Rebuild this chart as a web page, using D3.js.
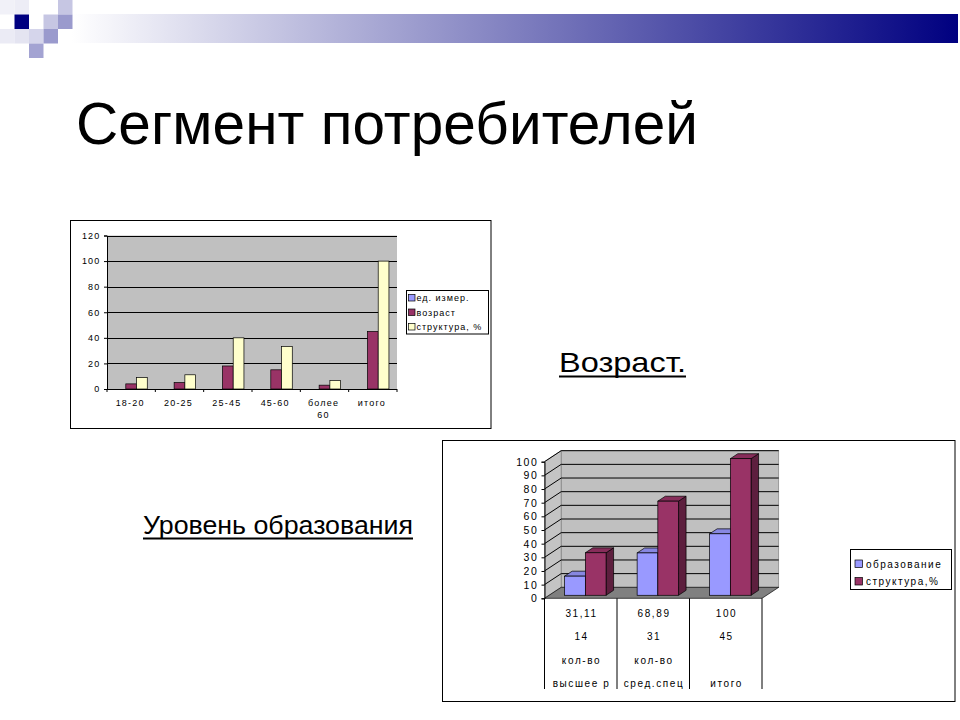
<!DOCTYPE html>
<html>
<head>
<meta charset="utf-8">
<script src="https://cdn.jsdelivr.net/npm/d3@7"></script>
<style>
  body { margin: 0; background: #fff; }
  text { font-family: "Liberation Sans", Arial, sans-serif; }
</style>
</head>
<body>
<svg id="slide" width="960" height="720"></svg>
<script>
// ---- age chart data ----
const ageCategories = ['18-20', '20-25', '25-45', '45-60', 'более 60', 'итого']
const ageSeries = ['ед. измер.', 'возраст', 'структура, %']
const ageUnits = [0, 0, 0, 0, 0, 0]
const ageCounts = [4, 5, 18, 15, 3, 45]
const ageShares = [8.89, 11.11, 40, 33.33, 6.67, 100]
const ageTicks = [0, 20, 40, 60, 80, 100, 120]

// ---- education chart data ----
const eduCategories = ['высшее р', 'сред.спец', 'итого']
const eduKinds = ['кол-во', 'кол-во', '']
const eduSeries = ['образование', 'структура,%']
const eduCounts = [14, 31, 45]
const eduShares = [31.11, 68.89, 100]
const eduTicks = [0, 10, 20, 30, 40, 50, 60, 70, 80, 90, 100]

const seriesColors = ['#9999ff', '#993366', '#ffffcc']

const svg = d3.select('#slide')

/* ------------------------- slide decoration ------------------------- */
const grad = svg.append('defs').append('linearGradient').attr('id', 'band')
grad.append('stop').attr('offset', '0%').attr('stop-color', '#ffffff')
grad.append('stop').attr('offset', '100%').attr('stop-color', '#000080')
svg.append('rect')
  .attr('x', 72).attr('y', 14).attr('width', 886).attr('height', 29)
  .attr('fill', 'url(#band)')

const squares = [
  [0, 0, '#f1f1f8'], [14.5, 0, '#ededf6'], [58, 0, '#c6c6e3'],
  [14.5, 14.5, '#000080'], [43.5, 14.5, '#c6c6e3'], [58, 14.5, '#9a9acd'],
  [0, 29, '#ebebf5'], [14.5, 29, '#e4e4f1'], [29, 29, '#d5d5eb'], [43.5, 29, '#9a9acd'],
  [29, 43.5, '#a3a3d2']
]
svg.selectAll('rect.deco')
  .data(squares)
  .enter()
  .append('rect')
  .attr('class', 'deco')
  .attr('x', d => d[0]).attr('y', d => d[1])
  .attr('width', 14.5).attr('height', 14.5)
  .attr('fill', d => d[2])

svg.append('text')
  .attr('x', 76).attr('y', 144)
  .attr('font-size', 58.5)
  .attr('textLength', 622)
  .attr('lengthAdjust', 'spacing')
  .text('Сегмент потребителей')

// underlined captions
function caption(x, y, label, len, size) {
  svg.append('text')
    .attr('x', x).attr('y', y)
    .attr('font-size', size)
    .attr('textLength', len)
    .attr('lengthAdjust', 'spacingAndGlyphs')
    .text(label)
  svg.append('rect')
    .attr('x', x).attr('y', y + 3.5)
    .attr('width', len).attr('height', 2)
    .attr('fill', '#000')
}
caption(559, 372, 'Возраст.', 127, 27.5)
caption(143, 534, 'Уровень образования', 270, 26.5)

/* ------------------------------ AGE CHART ------------------------------ */
const c1 = { left: 107, right: 397, top: 235.5, bottom: 389 }
svg.append('rect')
  .attr('x', 70.5).attr('y', 220.5).attr('width', 420.5).attr('height', 208)
  .attr('fill', '#fff').attr('stroke', '#000')

// x scale
const ageX = d3.scaleBand()
  .domain(ageCategories)
  .range([c1.left, c1.right])
const ageInner = d3.scaleBand()
  .domain(ageSeries)
  .range([0, ageX.bandwidth()])
  .paddingOuter(0.75)
// y scale
const ageY = d3.scaleLinear()
  .domain([0, 120])
  .range([c1.bottom, c1.top])

const age = svg.append('g')
age.append('rect')
  .attr('x', c1.left).attr('y', c1.top)
  .attr('width', c1.right - c1.left).attr('height', c1.bottom - c1.top)
  .attr('fill', '#c0c0c0')
age.selectAll('line.grid')
  .data(ageTicks)
  .enter()
  .append('line')
  .attr('x1', c1.left).attr('x2', c1.right)
  .attr('y1', d => Math.round(ageY(d)) + 0.5).attr('y2', d => Math.round(ageY(d)) + 0.5)
  .attr('stroke', '#000')

const ageRows = ageCategories.map((name, i) => ({
  name: name,
  values: [ageUnits[i], ageCounts[i], ageShares[i]]
}))
// Make the bars
age.selectAll('g.cat')
  .data(ageRows)
  .enter()
  .append('g')
  .attr('transform', d => `translate(${ageX(d.name)}, 0)`)
  .selectAll('rect')
  .data(d => d.values.map((v, j) => ({ s: ageSeries[j], v: v, j: j })).filter(b => b.v > 0))
  .enter()
  .append('rect')
  .attr('x', b => ageInner(b.s))
  .attr('y', b => ageY(b.v))
  .attr('width', ageInner.bandwidth())
  .attr('height', b => ageY(0) - ageY(b.v))
  .attr('fill', b => seriesColors[b.j])
  .attr('stroke', '#000').attr('stroke-width', 0.7)

const ageLeftAxis = d3.axisLeft(ageY).tickValues(ageTicks).tickSize(3).tickPadding(3.5)
age.append('g')
  .attr('transform', `translate(${c1.left}, 0)`)
  .call(ageLeftAxis)
  .call(g => g.selectAll('text')
    .attr('font-size', 9).attr('font-family', 'Liberation Sans')
    .attr('letter-spacing', 1.2))

// bottom axis, ticks sit between categories
age.append('line')
  .attr('x1', c1.left).attr('x2', c1.right)
  .attr('y1', c1.bottom + 0.5).attr('y2', c1.bottom + 0.5)
  .attr('stroke', '#000')
age.selectAll('line.xtick')
  .data(ageCategories.map(c => ageX(c)).concat([c1.right]))
  .enter()
  .append('line')
  .attr('x1', d => d).attr('x2', d => d)
  .attr('y1', c1.bottom).attr('y2', c1.bottom + 3)
  .attr('stroke', '#000')
age.selectAll('text.xlab')
  .data(ageCategories)
  .enter()
  .append('text')
  .attr('text-anchor', 'middle')
  .attr('font-size', 9)
  .attr('letter-spacing', 1.2)
  .attr('transform', d => `translate(${ageX(d) + ageX.bandwidth() / 2 - 1}, 405.5)`)
  .each(function (d) {
    d.split(' ').forEach((part, k) => {
      d3.select(this).append('tspan').attr('x', 0).attr('dy', k ? 12 : 0).text(part)
    })
  })

// legend
const ageLegend = age.append('g')
ageLegend.append('rect')
  .attr('x', 406.5).attr('y', 290.5).attr('width', 82).attr('height', 43.5)
  .attr('fill', '#fff').attr('stroke', '#000')
const ageItems = ageLegend.selectAll('g.item')
  .data(ageSeries)
  .enter()
  .append('g')
  .attr('transform', (d, i) => `translate(408.5, ${298 + i * 14.5})`)
ageItems.append('rect')
  .attr('x', 0).attr('y', -3.5).attr('width', 6.5).attr('height', 6.5)
  .attr('fill', (d, i) => seriesColors[i])
  .attr('stroke', '#000').attr('stroke-width', 0.7)
ageItems.append('text')
  .attr('x', 8).attr('y', 3)
  .attr('font-size', 9)
  .attr('letter-spacing', 1)
  .text(d => d)

/* --------------------------- EDUCATION CHART --------------------------- */
const c2 = { left: 544.5, right: 762, top: 461.7, bottom: 598.3 }
const depth = { dx: 16.7, dy: -11 }
svg.append('rect')
  .attr('x', 442.5).attr('y', 440.5).attr('width', 512.5).attr('height', 261)
  .attr('fill', '#fff').attr('stroke', '#000')

// x scale
const eduX = d3.scaleBand()
  .domain(eduCategories)
  .range([c2.left, c2.right])
const eduInner = d3.scaleBand()
  .domain(eduSeries)
  .range([0, eduX.bandwidth()])
  .paddingOuter(0.75)
// y scale
const eduY = d3.scaleLinear()
  .domain([0, 100])
  .range([c2.bottom, c2.top])

const edu = svg.append('g')
const y0 = eduY(0)
const y100 = eduY(100)
const pts = p => p.map(q => q.join(',')).join(' ')

// walls and floor
edu.append('rect')
  .attr('x', c2.left + depth.dx).attr('y', y100 + depth.dy)
  .attr('width', c2.right - c2.left).attr('height', y0 - y100)
  .attr('fill', '#c0c0c0').attr('stroke', '#808080').attr('stroke-width', 0.7)
edu.append('polygon')
  .attr('points', pts([[c2.left, y0], [c2.left, y100], [c2.left + depth.dx, y100 + depth.dy], [c2.left + depth.dx, y0 + depth.dy]]))
  .attr('fill', '#c4c4c4').attr('stroke', '#808080').attr('stroke-width', 0.7)
edu.selectAll('line.grid')
  .data(eduTicks.filter(t => t > 0))
  .enter()
  .append('line')
  .attr('x1', c2.left + depth.dx).attr('x2', c2.right + depth.dx)
  .attr('y1', d => eduY(d) + depth.dy).attr('y2', d => eduY(d) + depth.dy)
  .attr('stroke', '#000')
edu.selectAll('line.side')
  .data(eduTicks.filter(t => t > 0))
  .enter()
  .append('line')
  .attr('x1', c2.left).attr('x2', c2.left + depth.dx)
  .attr('y1', d => eduY(d)).attr('y2', d => eduY(d) + depth.dy)
  .attr('stroke', '#000')
edu.append('polygon')
  .attr('points', pts([[c2.left, y0], [c2.right, y0], [c2.right + depth.dx, y0 + depth.dy], [c2.left + depth.dx, y0 + depth.dy]]))
  .attr('fill', '#808080').attr('stroke', '#000').attr('stroke-width', 0.7)

// Make the 3d bars
const bFront = 0.275
const bDepth = 0.45
const eduRows = eduCategories.map((name, i) => ({ name: name, values: [eduCounts[i], eduShares[i]] }))
eduRows.forEach(row => {
  row.values.forEach((v, j) => {
    const col = d3.color(seriesColors[j])
    const x = eduX(row.name) + eduInner(eduSeries[j]) + bFront * depth.dx
    const w = eduInner.bandwidth()
    const yb = y0 + bFront * depth.dy
    const yt = eduY(v) + bFront * depth.dy
    const bx = bDepth * depth.dx
    const by = bDepth * depth.dy
    const g = edu.append('g').attr('stroke', '#000').attr('stroke-width', 0.7)
    g.append('polygon')
      .attr('points', pts([[x + w, yt], [x + w + bx, yt + by], [x + w + bx, yb + by], [x + w, yb]]))
      .attr('fill', col.darker(1.4))
    g.append('polygon')
      .attr('points', pts([[x, yt], [x + w, yt], [x + w + bx, yt + by], [x + bx, yt + by]]))
      .attr('fill', col.darker(0.35))
    g.append('rect')
      .attr('x', x).attr('y', yt)
      .attr('width', w).attr('height', yb - yt)
      .attr('fill', col)
  })
})

// y axis
const eduLeftAxis = d3.axisLeft(eduY).tickValues(eduTicks).tickSize(3).tickPadding(3)
edu.append('g')
  .attr('transform', `translate(${c2.left}, 0)`)
  .call(eduLeftAxis)
  .call(g => g.selectAll('text')
    .attr('font-size', 10.5).attr('font-family', 'Liberation Sans')
    .attr('letter-spacing', 1.6))

// data table under the axis
edu.selectAll('line.sep')
  .data(eduCategories.map(c => eduX(c)).concat([c2.right]))
  .enter()
  .append('line')
  .attr('x1', d => d).attr('x2', d => d)
  .attr('y1', y0).attr('y2', 689)
  .attr('stroke', '#000')
const tableRows = [
  eduShares.map(v => String(v).replace('.', ',')),
  eduCounts.map(v => String(v)),
  eduKinds,
  eduCategories
]
const rowY = [617, 639.5, 663.5, 687]
tableRows.forEach((row, r) => {
  edu.selectAll(null)
    .data(row)
    .enter()
    .append('text')
    .attr('x', (d, i) => eduX(eduCategories[i]) + eduX.bandwidth() / 2 + 0.8)
    .attr('y', rowY[r])
    .attr('text-anchor', 'middle')
    .attr('font-size', 10)
    .attr('letter-spacing', 1.6)
    .text(d => d)
})

// legend
const eduLegend = edu.append('g')
eduLegend.append('rect')
  .attr('x', 850.5).attr('y', 549.5).attr('width', 101).attr('height', 40)
  .attr('fill', '#fff').attr('stroke', '#000')
const eduItems = eduLegend.selectAll('g.item')
  .data(eduSeries)
  .enter()
  .append('g')
  .attr('transform', (d, i) => `translate(855, ${564 + i * 17.5})`)
eduItems.append('rect')
  .attr('x', 0).attr('y', -4).attr('width', 7.5).attr('height', 7.5)
  .attr('fill', (d, i) => seriesColors[i])
  .attr('stroke', '#000').attr('stroke-width', 0.7)
eduItems.append('text')
  .attr('x', 11).attr('y', 3.5)
  .attr('font-size', 10)
  .attr('letter-spacing', 1.5)
  .text(d => d)
</script>
</body>
</html>
